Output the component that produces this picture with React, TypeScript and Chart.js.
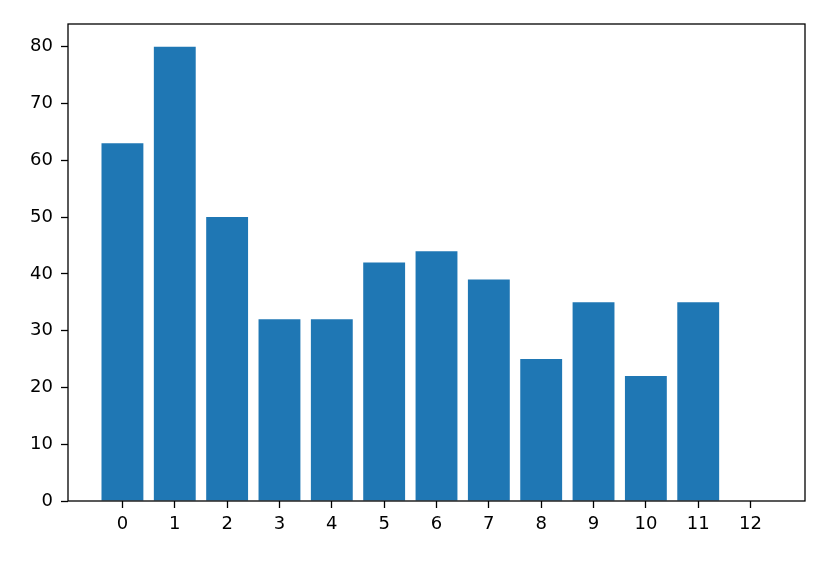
import React, { useEffect, useRef } from "react";
import { Chart, registerables } from "chart.js";

Chart.register(...registerables);

const categories = [0, 1, 2, 3, 4, 5, 6, 7, 8, 9, 10, 11, 12];
const values = [63, 80, 50, 32, 32, 42, 44, 39, 25, 35, 22, 35, 0];
const yTicks = [0, 10, 20, 30, 40, 50, 60, 70, 80];

const framePlugin = {
  id: "frame",
  afterDraw(chart: any) {
    const { ctx, chartArea } = chart;
    ctx.save();
    ctx.strokeStyle = "#000";
    ctx.lineWidth = 1.3;
    ctx.strokeRect(chartArea.left, chartArea.top, chartArea.right - chartArea.left, chartArea.bottom - chartArea.top);
    ctx.restore();
  },
};

export default function App() {
  const ref = useRef<HTMLCanvasElement>(null);
  useEffect(() => {
    const font = { family: "DejaVu Sans", size: 18 };
    const chart = new Chart(ref.current!, {
      type: "bar",
      data: {
        datasets: [
          {
            data: categories.map((c, i) => ({ x: c, y: values[i] })),
            backgroundColor: "#1f77b4",
            barPercentage: 0.8,
            categoryPercentage: 1,
          },
        ],
      },
      options: {
        responsive: false,
        animation: false,
        events: [],
        layout: { padding: { left: 0, top: 24, right: 25, bottom: 0 } },
        plugins: { legend: { display: false }, tooltip: { enabled: false } },
        scales: {
          x: {
            type: "linear",
            offset: false,
            min: -1.04,
            max: 13.04,
            afterBuildTicks: (axis: any) => {
              axis.ticks = categories.map((v) => ({ value: v }));
            },
            afterFit: (s: any) => {
              s.height = 63;
            },
            grid: { display: true, offset: false, drawOnChartArea: false, tickLength: 7, tickColor: "#000", tickWidth: 1.3 },
            border: { display: false },
            ticks: { color: "#000", font, padding: 6, autoSkip: false, maxRotation: 0 },
          },
          y: {
            min: 0,
            max: 84,
            afterBuildTicks: (axis: any) => {
              axis.ticks = yTicks.map((v) => ({ value: v }));
            },
            afterFit: (s: any) => {
              s.width = 68;
            },
            grid: { display: true, drawOnChartArea: false, tickLength: 7, tickColor: "#000", tickWidth: 1.3 },
            border: { display: false },
            ticks: { color: "#000", font, padding: 8 },
          },
        },
      },
      plugins: [framePlugin],
    } as any);
    return () => chart.destroy();
  }, []);
  return (
    <div style={{ position: "fixed", left: 0, top: 0, width: 830, height: 564, background: "#fff" }}>
      <canvas ref={ref} width={830} height={564} />
    </div>
  );
}
